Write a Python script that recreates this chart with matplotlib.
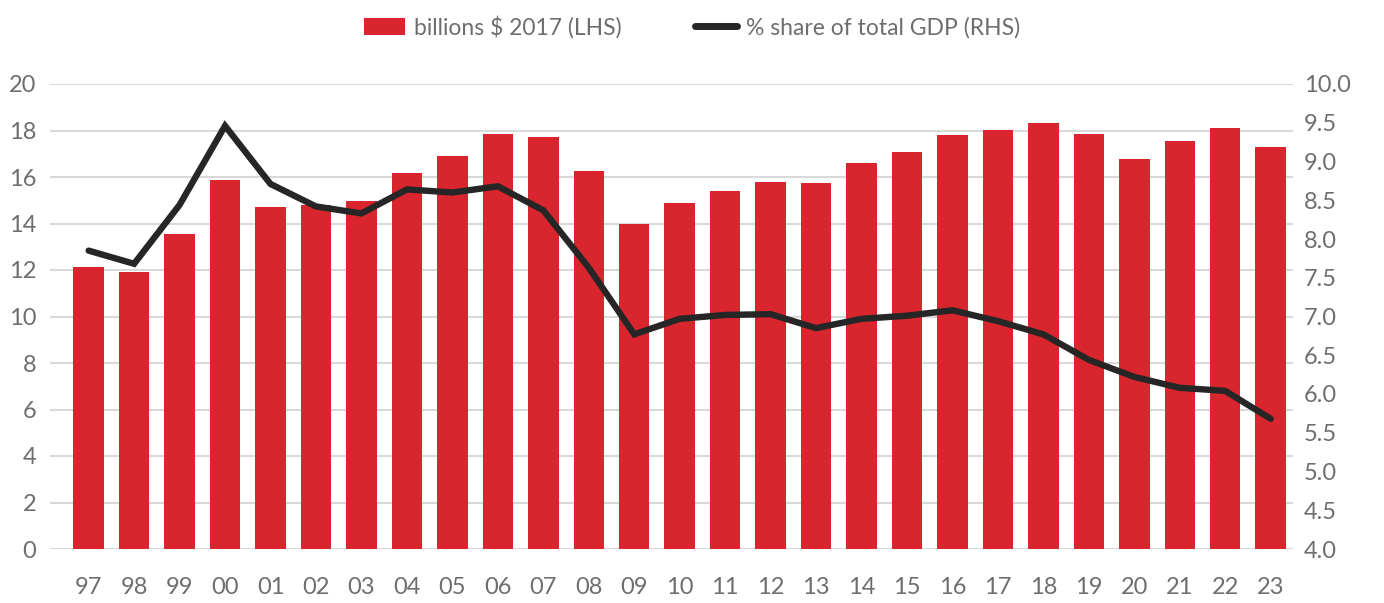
import matplotlib
matplotlib.use('Agg')
import matplotlib.pyplot as plt
from matplotlib.patches import Patch
from matplotlib.lines import Line2D

# ---------------------------------------------------------------------------
# Data
# ---------------------------------------------------------------------------

YEARS = ['97', '98', '99', '00', '01', '02', '03', '04', '05', '06', '07',
         '08', '09', '10', '11', '12', '13', '14', '15', '16', '17', '18',
         '19', '20', '21', '22', '23']

# billions $ 2017 (LHS)
BILLIONS = [12.12, 11.93, 13.54, 15.87, 14.73, 14.79, 14.98, 16.17, 16.92,
            17.86, 17.70, 16.27, 14.00, 14.90, 15.40, 15.80, 15.75, 16.60,
            17.08, 17.80, 18.03, 18.33, 17.86, 16.77, 17.53, 18.10, 17.30]

# % share of total GDP (RHS)
GDP_SHARE = [7.85, 7.68, 8.44, 9.46, 8.71, 8.42, 8.33, 8.64, 8.60, 8.68,
             8.37, 7.63, 6.77, 6.97, 7.02, 7.03, 6.85, 6.97, 7.01, 7.08,
             6.94, 6.77, 6.44, 6.22, 6.08, 6.04, 5.68]

LHS_TICKS = list(range(0, 21, 2))
RHS_TICKS = [4.0 + 0.5 * i for i in range(13)]

RED = '#d9252e'
DARK = '#262626'
GREY_TEXT = '#6e6e6e'
GRID = '#d9d9d9'

plt.rcParams['font.family'] = ['Lato', 'DejaVu Sans']

fig = plt.figure(figsize=(13.84, 6.03), dpi=100)
ax = fig.add_axes([50 / 1384, 1 - 549 / 603, (1293 - 50) / 1384, (549 - 84) / 603])
ax2 = ax.twinx()

x = list(range(len(YEARS)))
ax.bar(x, BILLIONS, width=0.67, color=RED, zorder=2)
ax2.plot(x, GDP_SHARE, color=DARK, linewidth=4.6, solid_joinstyle='miter',
         solid_capstyle='round', zorder=3)

ax.set_xlim(-0.85, 26.49)
ax.set_ylim(0, 20)
ax2.set_ylim(4, 10)
ax.set_yticks(LHS_TICKS)
ax2.set_yticks(RHS_TICKS)
ax2.set_yticklabels([f'{v:.1f}' for v in RHS_TICKS])
ax.set_xticks(x)
ax.set_xticklabels(YEARS)

ax.grid(axis='y', color=GRID, linewidth=1.5, zorder=0)
ax.set_axisbelow(True)
for a in (ax, ax2):
    for s in a.spines.values():
        s.set_visible(False)
    a.tick_params(length=0, labelsize=17, labelcolor=GREY_TEXT)
ax.tick_params(axis='x', pad=20)
ax.tick_params(axis='y', pad=10)
ax2.tick_params(axis='y', pad=8)
ax.set_zorder(ax2.get_zorder() - 1)
ax2.patch.set_visible(False)

handles = [Patch(facecolor=RED, edgecolor='none'),
           Line2D([0], [0], color=DARK, linewidth=5, solid_capstyle='round')]
leg = fig.legend(handles, ['billions $ 2017 (LHS)', '% share of total GDP (RHS)'],
                 loc='center', bbox_to_anchor=(0.5, 1 - 27 / 603), ncol=2,
                 frameon=False, handlelength=1.8, handleheight=0.8,
                 handletextpad=0.4, columnspacing=3.2,
                 prop={'size': 16.5})
for t in leg.get_texts():
    t.set_color(GREY_TEXT)

fig.savefig('out.png', dpi=100)
